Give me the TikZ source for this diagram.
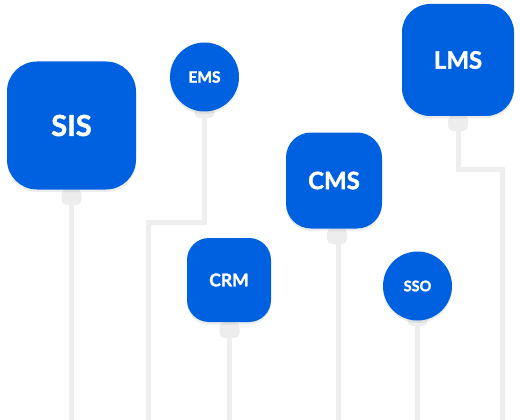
\documentclass[tikz,border=0pt]{standalone}
\usepackage{fontspec}
\setmainfont{Lato}[BoldFeatures={FakeBold=1.6}]
\usetikzlibrary{shadows}
\definecolor{nodeblue}{HTML}{0061E0}
\definecolor{wire}{HTML}{EEEEEE}
\definecolor{tabgrey}{HTML}{EDEDED}
\tikzset{
  x=1pt,y=-1pt,
  sysbox/.style={fill=nodeblue, text=white, inner sep=0pt,
    drop shadow={opacity=0.14, shadow xshift=0pt, shadow yshift=-2.5pt}},
  sysround/.style={sysbox, rectangle, rounded corners=#1},
  syscirc/.style={sysbox, circle},
  tabnode/.style={fill=tabgrey, minimum width=20pt, minimum height=16pt, inner sep=0pt,
    rounded corners=5pt},
  wireline/.style={draw=wire, line width=5pt}
}
\newcommand{\lbl}[1]{\bfseries\fontsize{#1}{#1}\selectfont}
\begin{document}
\begin{tikzpicture}
\useasboundingbox (0,0) rectangle (520,420);
% coordinates at bottom
\coordinate (b1) at (71.5,421);
\coordinate (b2) at (148.5,421);
\coordinate (b3) at (229.5,421);
\coordinate (b4) at (338,421);
\coordinate (b5) at (417.5,421);
\coordinate (b6) at (502.5,421);
\coordinate (e1) at (204.5,222.5);
\coordinate (e2) at (148.5,222.5);
\coordinate (l1) at (458.5,169);
\coordinate (l2) at (502.5,169);
% tabs
\node[tabnode] (tSIS) at (71.5,197) {};
\node[tabnode] (tEMS) at (204.5,110) {};
\node[tabnode] (tCRM) at (229.5,330) {};
\node[tabnode] (tCMS) at (337,236) {};
\node[tabnode] (tSSO) at (417.5,318) {};
\node[tabnode] (tLMS) at (458,123) {};
% wires
\draw[wireline] (tSIS.center) -- (b1);
\draw[wireline] (tEMS.center) -- (e1) -- (e2) -- (b2);
\draw[wireline] (tCRM.center) -- (b3);
\draw[wireline] (tCMS.center -| b4) -- (b4);
\draw[wireline] (tSSO.center) -- (b5);
\draw[wireline] (tLMS.center -| l1) -- (l1) -- (l2) -- (b6);
% systems
\node[sysround=30pt, minimum width=129pt, minimum height=128pt, font=\lbl{29}] (SIS) at (71.5,125.5) {SIS};
\node[syscirc, minimum size=69pt, font=\lbl{15.5}] (EMS) at (204.5,77) {EMS};
\node[sysround=22pt, minimum width=84pt, minimum height=84pt, font=\lbl{17.5}] (CRM) at (229,280) {CRM};
\node[sysround=25pt, minimum width=96pt, minimum height=96pt, font=\lbl{24}] (CMS) at (334,180.5) {CMS};
\node[syscirc, minimum size=69pt, font=\lbl{14.5}] (SSO) at (417.5,286) {SSO};
\node[sysround=28pt, minimum width=112pt, minimum height=112pt, font=\lbl{24}] (LMS) at (458,60) {LMS};
\end{tikzpicture}
\end{document}
